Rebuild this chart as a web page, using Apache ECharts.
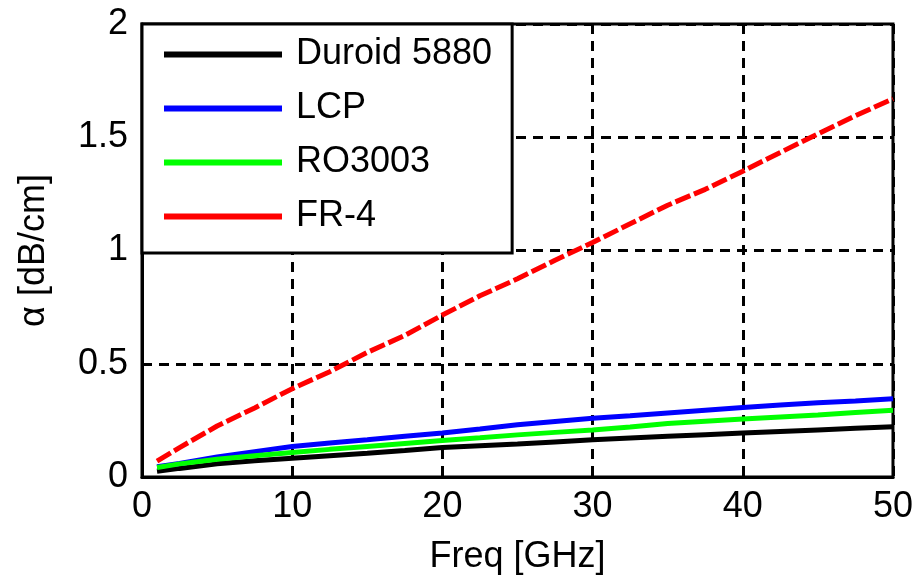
<!DOCTYPE html>
<html lang="en" style="height: 100%">

<head>
  <meta charset="utf-8">
</head>

<body style="height: 100%; margin: 0; background-color: #fff">
  <div id="container" style="width: 916px; height: 580px"></div>

  <script type="text/javascript" src="https://cdn.jsdelivr.net/npm/echarts@6.0.0/dist/echarts.min.js"></script>

  <script type="text/javascript">
    // ---- data ----
    var freq = [1, 2.5, 5, 7.5, 10, 12.5, 15, 17.5, 20, 22.5, 25, 27.5, 30, 32.5, 35, 37.5, 40, 42.5, 45, 47.5, 50];
    var duroid = [0.025, 0.038, 0.058, 0.072, 0.083, 0.094, 0.105, 0.117, 0.13, 0.138, 0.146, 0.155, 0.164, 0.172, 0.18, 0.187, 0.194, 0.201, 0.208, 0.215, 0.222];
    var lcp = [0.045, 0.06, 0.088, 0.112, 0.135, 0.15, 0.164, 0.18, 0.194, 0.212, 0.231, 0.245, 0.259, 0.27, 0.283, 0.295, 0.307, 0.318, 0.328, 0.336, 0.345];
    var ro3003 = [0.042, 0.058, 0.078, 0.094, 0.108, 0.122, 0.135, 0.148, 0.161, 0.173, 0.186, 0.197, 0.208, 0.221, 0.236, 0.246, 0.256, 0.265, 0.274, 0.285, 0.295];
    var fr4 = [0.07, 0.13, 0.225, 0.305, 0.39, 0.465, 0.55, 0.625, 0.715, 0.8, 0.875, 0.957, 1.035, 1.118, 1.2, 1.27, 1.35, 1.433, 1.515, 1.595, 1.67];
    var names = ['Duroid 5880', 'LCP', 'RO3003', 'FR-4'];
    var colors = ['#000000', '#0000ff', '#00ff00', '#ff0000'];

    var FONT = "'Liberation Sans', Arial, sans-serif";

    var dom = document.getElementById('container');
    var myChart = echarts.init(dom, null, { renderer: 'canvas' });

    function pairs(ys) {
      return freq.map(function (f, i) { return [f, ys[i]]; });
    }

    function lineSeries(name, ys, color, dash) {
      return {
        name: name,
        type: 'line',
        data: pairs(ys),
        symbol: 'none',
        animation: false,
        lineStyle: { color: color, width: 5, type: dash || 'solid' },
        itemStyle: { color: color }
      };
    }

    var gridLine = { show: true, lineStyle: { color: '#000', width: 3, type: [10, 7] } };

    var option = {
      backgroundColor: '#fff',
      textStyle: { fontFamily: FONT },
      grid: {
        left: 142, right: 23, top: 24, bottom: 100,
        show: true, borderColor: '#000', borderWidth: 3, backgroundColor: 'transparent'
      },
      legend: {
        orient: 'vertical',
        left: 142, top: 24,
        padding: [10, 20, 16, 22],
        backgroundColor: '#fff',
        borderColor: '#000',
        borderWidth: 3,
        icon: 'rect',
        itemWidth: 118,
        itemHeight: 6,
        itemGap: 13,
        textStyle: { fontFamily: FONT, fontSize: 36, color: '#000', lineHeight: 41, padding: [0, 0, 0, 9] },
        data: names
      },
      xAxis: {
        type: 'value',
        min: 0, max: 50, interval: 10,
        name: 'Freq [GHz]',
        nameLocation: 'middle',
        nameGap: 62,
        nameTextStyle: { fontFamily: FONT, fontSize: 36, color: '#000' },
        axisLine: { show: true, onZero: false, lineStyle: { color: '#000', width: 3 } },
        axisTick: { show: false },
        axisLabel: { fontFamily: FONT, fontSize: 36, color: '#000', margin: 12 },
        splitLine: gridLine
      },
      yAxis: {
        type: 'value',
        min: 0, max: 2, interval: 0.5,
        name: 'α [dB/cm]',
        nameLocation: 'middle',
        nameGap: 90,
        nameTextStyle: { fontFamily: FONT, fontSize: 36, color: '#000' },
        axisLine: { show: true, lineStyle: { color: '#000', width: 3 } },
        axisTick: { show: false },
        axisLabel: { fontFamily: FONT, fontSize: 36, color: '#000', margin: 14 },
        splitLine: gridLine
      },
      series: [
        lineSeries(names[0], duroid, colors[0]),
        lineSeries(names[1], lcp, colors[1]),
        lineSeries(names[2], ro3003, colors[2]),
        lineSeries(names[3], fr4, colors[3], [16, 4])
      ]
    };

    myChart.setOption(option);
    window.addEventListener('resize', myChart.resize);
  </script>
</body>

</html>
